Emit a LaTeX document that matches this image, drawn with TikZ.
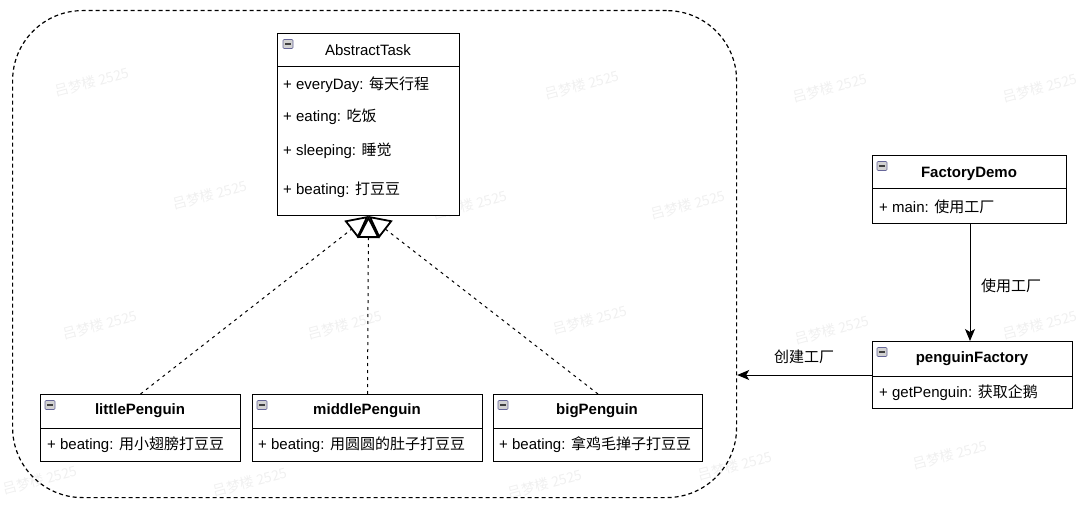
\documentclass[tikz,border=0pt]{standalone}
\usepackage{fontspec}
\setmainfont{Liberation Sans}
\newfontfamily\cjk{Noto Sans CJK SC}
\usetikzlibrary{arrows.meta}
\begin{document}
\begin{tikzpicture}[x=1pt,y=-1pt,
  box/.style={draw=black, line width=1pt, fill=white, inner sep=0pt, anchor=north west},
  ttl/.style={font=\fontsize{15pt}{18pt}\selectfont\bfseries, inner sep=0pt},
  attr/.style={font=\fontsize{15pt}{18pt}\selectfont, inner sep=0pt, anchor=west},
  lbl/.style={font=\cjk\fontsize{15pt}{18pt}\selectfont, inner sep=0pt},
  divline/.style={line width=1pt},
  icon/.style={draw=gray!80!blue, fill=gray!35, line width=0.6pt, rounded corners=1pt,
    minimum width=10pt, minimum height=9pt, inner sep=0pt,
    path picture={\draw[black!75, line width=1.3pt]
      ([xshift=2pt]path picture bounding box.west) -- ([xshift=-2pt]path picture bounding box.east);}},
  wm/.style={font=\cjk\fontsize{14pt}{16pt}\selectfont, text=black!6, rotate=15, inner sep=0pt},
  inh/.style={line width=1pt, dash pattern=on 3pt off 4pt,
    -{Triangle[open, length=22pt, width=22pt, line width=1.8pt]}},
  dep/.style={line width=1pt, -{Stealth[length=12pt, width=10pt, inset=3pt]}}]
\useasboundingbox (0,0) rectangle (1080,508);

% watermarks (behind the diagram)
\node[wm] (w1) at (92,82) {吕梦楼 2525};
\node[wm] (w3) at (582,85) {吕梦楼 2525};
\node[wm] (w4) at (830,88) {吕梦楼 2525};
\node[wm] (w5) at (1040,88) {吕梦楼 2525};
\node[wm] (w6) at (210,195) {吕梦楼 2525};
\node[wm] (w7) at (470,205) {吕梦楼 2525};
\node[wm] (w8) at (688,205) {吕梦楼 2525};
\node[wm] (w9) at (100,325) {吕梦楼 2525};
\node[wm] (w10) at (345,325) {吕梦楼 2525};
\node[wm] (w11) at (590,320) {吕梦楼 2525};
\node[wm] (w12) at (832,330) {吕梦楼 2525};
\node[wm] (w13) at (1040,325) {吕梦楼 2525};
\node[wm] (w14) at (40,480) {吕梦楼 2525};
\node[wm] (w15) at (250,482) {吕梦楼 2525};
\node[wm] (w16) at (545,484) {吕梦楼 2525};
\node[wm] (w17) at (735,466) {吕梦楼 2525};
\node[wm] (w18) at (950,455) {吕梦楼 2525};

% container
\node[draw=black, line width=1.2pt, dash pattern=on 4pt off 3pt, rounded corners=70pt,
  minimum width=724pt, minimum height=487pt, inner sep=0pt, anchor=north west] (group) at (12,10) {};

% AbstractTask
\node[box, minimum width=182pt, minimum height=182pt] (abs) at (277,33) {};
\draw[divline] (277,67) -- (459,67);
\node[icon] (absicon) at (288,44) {};
\node[font=\fontsize{15pt}{18pt}\selectfont, inner sep=0pt] (abst) at (368,50) {AbstractTask};
\node[attr] (a1) at (283,85) {+ everyDay: {\cjk 每天行程}};
\node[attr] (a2) at (283,117) {+ eating: {\cjk 吃饭}};
\node[attr] (a3) at (283,151) {+ sleeping: {\cjk 睡觉}};
\node[attr] (a4) at (283,190) {+ beating: {\cjk 打豆豆}};

% littlePenguin
\node[box, minimum width=200pt, minimum height=67pt] (little) at (40,394) {};
\draw[divline] (40,428) -- (240,428);
\node[icon] (littleicon) at (50,405) {};
\node[ttl] (littlet) at (140,411) {littlePenguin};
\node[attr] (littlea) at (47,445) {+ beating: {\cjk 用小翅膀打豆豆}};

% middlePenguin
\node[box, minimum width=230pt, minimum height=67pt] (mid) at (252,394) {};
\draw[divline] (252,428) -- (482,428);
\node[icon] (midicon) at (262,405) {};
\node[ttl] (midt) at (367,411) {middlePenguin};
\node[attr] (mida) at (258,445) {+ beating: {\cjk 用圆圆的肚子打豆豆}};

% bigPenguin
\node[box, minimum width=209pt, minimum height=67pt] (big) at (493,394) {};
\draw[divline] (493,428) -- (702,428);
\node[icon] (bigicon) at (503,405) {};
\node[ttl] (bigt) at (597,411) {bigPenguin};
\node[attr] (biga) at (499,445) {+ beating: {\cjk 拿鸡毛掸子打豆豆}};

% FactoryDemo
\node[box, minimum width=194pt, minimum height=68pt] (fd) at (872,155) {};
\draw[divline] (872,189) -- (1066,189);
\node[icon] (fdicon) at (882,166) {};
\node[ttl] (fdt) at (969,174) {FactoryDemo};
\node[attr] (fda) at (879,207) {+ main: {\cjk 使用工厂}};

% penguinFactory
\node[box, minimum width=200pt, minimum height=67pt] (pf) at (872,341) {};
\draw[divline] (872,376) -- (1072,376);
\node[icon] (pficon) at (882,352) {};
\node[ttl] (pft) at (972,359) {penguinFactory};
\node[attr] (pfa) at (879,393) {+ getPenguin: {\cjk 获取企鹅}};

% inheritance
\draw[inh] (little.north) -- (abs.south);
\draw[inh] (mid.north) -- (abs.south);
\draw[inh] (big.north) -- (abs.south);

% dependencies
\draw[dep] (fd.south -| 970,0) -- (pf.north -| 970,0);
\node[lbl, anchor=west] (l1) at (981,286) {使用工厂};
\draw[dep] (pf.west) -- (pf.west -| group.east);
\node[lbl] (l2) at (804,357) {创建工厂};
\end{tikzpicture}
\end{document}
